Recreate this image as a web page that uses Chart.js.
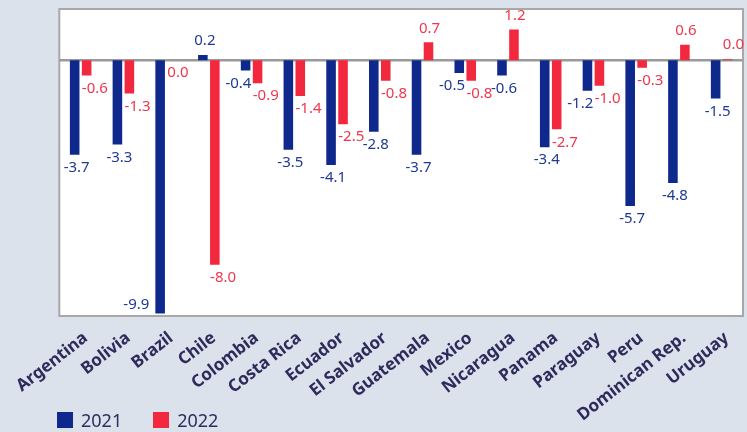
<!DOCTYPE html>
<html>
<head>
<meta charset="utf-8">
<script src="https://cdn.jsdelivr.net/npm/chart.js@4"></script>
<style>
  html, body { margin: 0; padding: 0; background: #dbe2eb; }
  #wrap { position: relative; width: 747px; height: 432px; }
  #legend { position: absolute; left: 57px; top: 408px; height: 24px; font: 18px "Noto Sans", sans-serif; color: #2f2f5f; display: flex; }
  #legend span.item { display: flex; align-items: center; margin-right: 31px; }
  #legend span.box { width: 16px; height: 16px; margin-right: 8px; display: inline-block; }
</style>
</head>
<body>
<div id="wrap">
  <canvas id="chart" width="747" height="432"></canvas>
  <div id="legend"></div>
</div>
<script>
// Countries and yearly values
const countries = ['Argentina', 'Bolivia', 'Brazil', 'Chile', 'Colombia', 'Costa Rica', 'Ecuador', 'El Salvador',
    'Guatemala', 'Mexico', 'Nicaragua', 'Panama', 'Paraguay', 'Peru', 'Dominican Rep.', 'Uruguay'];
const values2021 = [-3.7, -3.3, -9.9, 0.2, -0.4, -3.5, -4.1, -2.8, -3.7, -0.5, -0.6, -3.4, -1.2, -5.7, -4.8, -1.5];
const values2022 = [-0.6, -1.3, 0.0, -8.0, -0.9, -1.4, -2.5, -0.8, 0.7, -0.8, 1.2, -2.7, -1.0, -0.3, 0.6, 0.04];
const years = ['2021', '2022'];

const NAVY = '#0f288b';
const RED = '#f2283f';
const NAVY_TEXT = '#1e3a92';
const RED_TEXT = '#f0364d';

// white plot panel with grey frame and zero line
const panelPlugin = {
    id: 'panel',
    beforeDraw(chart) {
        const { ctx, chartArea: a } = chart;
        ctx.save();
        ctx.fillStyle = '#ffffff';
        ctx.fillRect(a.left, a.top, a.right - a.left, a.bottom - a.top);
        ctx.strokeStyle = '#a8a8a8';
        ctx.lineWidth = 2;
        ctx.strokeRect(a.left, a.top, a.right - a.left, a.bottom - a.top);
        ctx.restore();
    },
    beforeDatasetsDraw(chart) {
        const { ctx, chartArea: a } = chart;
        const y0 = chart.scales.y.getPixelForValue(0);
        ctx.save();
        ctx.strokeStyle = '#9a9a9a';
        ctx.lineWidth = 2.5;
        ctx.beginPath();
        ctx.moveTo(a.left, y0);
        ctx.lineTo(a.right, y0);
        ctx.stroke();
        ctx.restore();
    }
};

const fmt = v => (Math.abs(v).toFixed(1) === '0.0' ? '0.0' : v.toFixed(1));

// value labels at the end of each bar
const valueLabels = {
    id: 'valueLabels',
    afterDatasetsDraw(chart) {
        const { ctx, chartArea: a } = chart;
        const bars21 = chart.getDatasetMeta(0).data;
        const bars22 = chart.getDatasetMeta(1).data;
        ctx.save();
        ctx.font = '15px "Noto Sans", sans-serif';
        ctx.textBaseline = 'middle';
        countries.forEach((c, j) => {
            const b1 = bars21[j], b2 = bars22[j];
            const v1 = values2021[j], v2 = values2022[j];

            // 2021
            ctx.fillStyle = NAVY_TEXT;
            if (v1 > 0) {
                ctx.textAlign = 'center';
                ctx.fillText(fmt(v1), b1.x + 2, b1.y - 14);
            } else if (b1.y + 26 > a.bottom) {
                // no room below: put it beside the bar
                ctx.textAlign = 'right';
                ctx.fillText(fmt(v1), b1.x - b1.width / 2 - 6, b1.y - 9);
            } else if (v2 <= 0 && Math.abs(b2.y - b1.y) < 16) {
                // neighbour label at the same height: push left
                ctx.textAlign = 'right';
                ctx.fillText(fmt(v1), b1.x + b1.width / 2 + 1, b1.y + 13);
            } else {
                ctx.textAlign = 'center';
                ctx.fillText(fmt(v1), b1.x + 2, b1.y + 13);
            }

            // 2022
            ctx.fillStyle = RED_TEXT;
            if (v2 > 0.05) {
                ctx.textAlign = 'center';
                ctx.fillText(fmt(v2), b2.x + 1, b2.y - 14);
            } else if (v2 > 0) {
                ctx.textAlign = 'left';
                ctx.fillText(fmt(v2), b2.x - b2.width / 2, b2.y - 14);
            } else {
                ctx.textAlign = 'left';
                ctx.fillText(fmt(v2), b2.x - b2.width / 2, b2.y + 13);
            }
        });
        ctx.restore();
    }
};

const chart = new Chart(document.getElementById('chart'), {
    type: 'bar',
    data: {
        labels: countries,
        datasets: [
            { label: years[0], data: values2021, backgroundColor: NAVY },
            { label: years[1], data: values2022, backgroundColor: RED }
        ]
    },
    options: {
        responsive: false,
        animation: false,
        devicePixelRatio: 1,
        datasets: { bar: { categoryPercentage: 0.56, barPercentage: 0.8 } },
        layout: { padding: { left: 58, right: 4, top: 9, bottom: 0 } },
        plugins: {
            legend: { display: false },
            tooltip: { enabled: false }
        },
        scales: {
            x: {
                grid: { display: false, drawTicks: false },
                border: { display: false },
                afterFit(scale) { scale.height = 116; },
                ticks: {
                    minRotation: 38,
                    maxRotation: 38,
                    padding: 12,
                    labelOffset: 5,
                    color: '#2c2b5b',
                    font: { family: 'Noto Sans', size: 17, weight: 'bold' }
                }
            },
            y: {
                display: false,
                min: -10,
                max: 2
            }
        }
    },
    plugins: [panelPlugin, valueLabels]
});

// legend
const legend = document.getElementById('legend');
chart.data.datasets.forEach(ds => {
    const item = document.createElement('span');
    item.className = 'item';
    item.innerHTML = '<span class="box" style="background:' + ds.backgroundColor + '"></span>' + ds.label;
    legend.appendChild(item);
});
</script>
</body>
</html>
